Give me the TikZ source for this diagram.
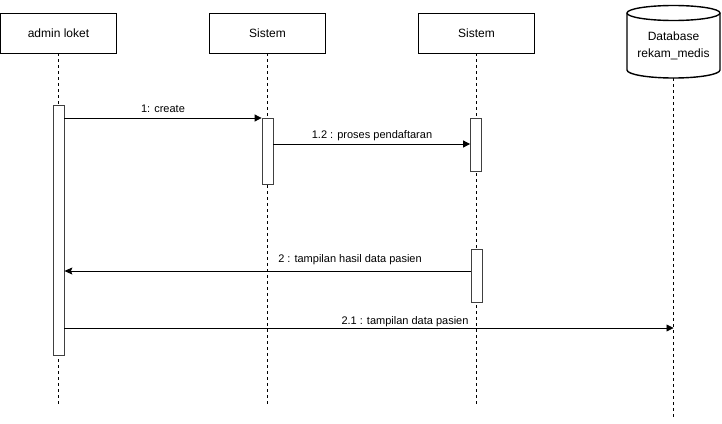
\documentclass[tikz,border=0pt]{standalone}
\usepackage{fontspec}
\setmainfont{Liberation Sans}
\usetikzlibrary{arrows.meta}
\begin{document}
\begin{tikzpicture}[x=1pt,y=1pt,
  actor/.style={draw=black, line width=0.8pt, fill=white, minimum width=116pt,
    minimum height=40pt, inner sep=0pt, font=\fontsize{12}{14}\selectfont},
  actbar/.style={draw=black!75, line width=0.8pt, fill=white, minimum width=11pt,
    inner sep=0pt},
  lifeline/.style={draw=black, line width=0.8pt, dash pattern=on 3pt off 3pt},
  msg/.style={draw=black, line width=0.8pt, -{Triangle[length=7pt,width=7pt]}},
  ret/.style={draw=black, line width=0.8pt, -{Stealth[length=8pt,width=7pt,inset=1.5pt]}},
  store/.style={line width=1.4pt},
  lbl/.style={font=\fontsize{11}{13}\selectfont, inner sep=0pt, anchor=base}]
\useasboundingbox (0,0) rectangle (722,-423);

% participants
\node[actor] (admin) at (58.5,-33) {admin loket};
\node[actor] (sis1) at (267.5,-33) {Sistem};
\node[actor] (sis2) at (476.5,-33) {Sistem};

% database cylinder
\node[minimum width=93pt, minimum height=73pt, inner sep=0pt] (db) at (673.5,-41.5) {};
\draw[store, fill=white]
  (627,-13) -- (627,-70) arc[start angle=180, end angle=360, x radius=46.5, y radius=8]
  -- (720,-13) arc[start angle=0, end angle=180, x radius=46.5, y radius=7.5] -- cycle;
\draw[store] (627,-13) arc[start angle=180, end angle=360, x radius=46.5, y radius=7.5];
\node[align=center, font=\fontsize{12}{17}\selectfont] (dbtext) at (673.5,-46) {Database\\rekam\_medis};

% lifeline ends
\coordinate (adminEnd) at (58.5,-405);
\coordinate (sis1End) at (267.5,-405);
\coordinate (sis2End) at (476.5,-405);
\coordinate (dbEnd) at (673.5,-420);

\draw[lifeline] (admin.south) -- (adminEnd);
\draw[lifeline] (sis1.south) -- (sis1End);
\draw[lifeline] (sis2.south) -- (sis2End);
\draw[lifeline] (db.south) -- (dbEnd);

% activation bars
\node[actbar, minimum height=250pt] (a1) at (58.5,-230) {};
\node[actbar, minimum height=66pt] (s1a) at (267.5,-151) {};
\node[actbar, minimum height=53pt] (s2a) at (476,-144.5) {};
\node[actbar, minimum height=53pt] (s2b) at (476.5,-275.5) {};

% messages
\draw[msg] (a1.east |- 0,-118) -- (s1a.west |- 0,-118);
\node[lbl] (m1) at (163,-112) {1: create};

\draw[msg] (s1a.east |- 0,-144) -- (s2a.west |- 0,-144);
\node[lbl] (m2) at (372,-138) {1.2 : proses pendaftaran};

\draw[ret] (s2b.west |- 0,-271) -- (a1.east |- 0,-271);
\node[lbl] (m3) at (350,-262) {2 : tampilan hasil data pasien};

\draw[msg] (a1.east |- 0,-328) -- (dbEnd |- 0,-328);
\node[lbl] (m4) at (405,-324) {2.1 : tampilan data pasien};
\end{tikzpicture}
\end{document}
